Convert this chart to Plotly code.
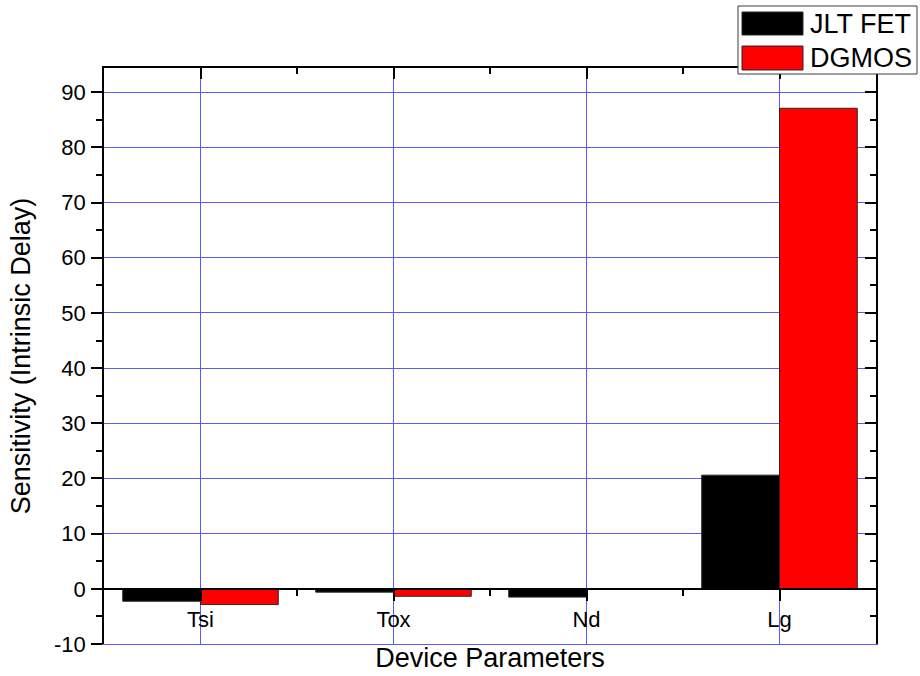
import plotly.graph_objects as go

# Sensitivity of intrinsic delay to device parameters
params = ["Tsi", "Tox", "Nd", "Lg"]
jlt_fet = [-2.25, -0.6, -1.5, 20.6]
dgmos = [-2.85, -1.35, 0.0, 87.1]

y_ticks = list(range(-10, 91, 10))
y_tick_text = [str(v) for v in y_ticks]  # plain hyphen for negatives
Y_MIN, Y_MAX = -10, 94.4

W, H = 920, 676
ML, MR, MT, MB = 104, 44, 68, 32
PW, PH = W - ML - MR, H - MT - MB

FONT = "Arial, Liberation Sans, sans-serif"
GRID = "rgb(90,90,255)"
AX = "black"


def px_x(x):
    return (x - ML) / PW


def px_y(y):
    return (H - MB - y) / PH


xpos = list(range(len(params)))

fig = go.Figure()
fig.add_trace(go.Bar(x=xpos, y=jlt_fet, name="JLT FET",
                     marker=dict(color="black", line=dict(color="rgb(40,40,40)", width=1))))
fig.add_trace(go.Bar(x=xpos, y=dgmos, name="DGMOS",
                     marker=dict(color="#ff0000", line=dict(color="rgb(40,40,40)", width=1))))

zero_pos = (0 - Y_MIN) / (Y_MAX - Y_MIN)

fig.update_layout(
    width=W, height=H,
    margin=dict(l=ML, r=MR, t=MT, b=MB, autoexpand=False),
    paper_bgcolor="white", plot_bgcolor="white",
    barmode="group", bargap=0.194, bargroupgap=0,
    showlegend=False,
    font=dict(family=FONT, color="black", size=22),
    # bottom frame: carries the vertical grid and the axis title
    xaxis=dict(range=[-0.5, 3.5], tickvals=xpos, showticklabels=False, ticks="",
               showgrid=True, gridcolor=GRID, gridwidth=1, zeroline=False,
               showline=True, linecolor=GRID, linewidth=1,
               title=dict(text="Device Parameters", font=dict(size=27), standoff=4),
               automargin=False),
    # top frame
    xaxis2=dict(overlaying="x", side="top", anchor="y", range=[-0.5, 3.5],
                tickvals=xpos, showticklabels=False, ticks="inside", ticklen=11,
                tickwidth=1.5, tickcolor=AX,
                minor=dict(tickvals=[0.5, 1.5, 2.5], ticks="inside", ticklen=6,
                           tickwidth=1.5, tickcolor=AX),
                showgrid=False, zeroline=False, showline=True, linecolor=AX,
                linewidth=1.5, automargin=False),
    # category axis sitting at y = 0
    xaxis3=dict(overlaying="x", anchor="free", position=zero_pos, side="bottom",
                range=[-0.5, 3.5], tickvals=xpos, ticktext=params,
                ticks="outside", ticklen=11, tickwidth=1.5, tickcolor=AX,
                minor=dict(tickvals=[0.5, 1.5, 2.5], ticks="outside", ticklen=6,
                           tickwidth=1.5, tickcolor=AX),
                ticklabelstandoff=0, tickfont=dict(size=22),
                showgrid=False, zeroline=False, showline=True, linecolor=AX,
                linewidth=1.5, automargin=False),
    yaxis=dict(range=[Y_MIN, Y_MAX], tickvals=y_ticks, ticktext=y_tick_text,
               ticks="outside", ticklen=11, tickwidth=1.5, tickcolor=AX,
               minor=dict(dtick=5, tick0=-10, ticks="outside", ticklen=6,
                          tickwidth=1.5, tickcolor=AX, showgrid=False),
               showgrid=True, gridcolor=GRID, gridwidth=1, zeroline=False,
               showline=True, linecolor=AX, linewidth=1.5,
               ticklabelstandoff=1, tickfont=dict(size=22),
               title=dict(text="Sensitivity (Intrinsic Delay)", font=dict(size=27),
                          standoff=16),
               automargin=False),
    yaxis2=dict(overlaying="y", side="right", anchor="x", range=[Y_MIN, Y_MAX],
                tickvals=y_ticks, ticks="inside", ticklen=11, tickwidth=1.5,
                tickcolor=AX, showticklabels=False,
                minor=dict(dtick=5, tick0=-10, ticks="inside", ticklen=6,
                           tickwidth=1.5, tickcolor=AX, showgrid=False),
                showgrid=False, zeroline=False, showline=True, linecolor=AX,
                linewidth=1.5, automargin=False),
)

# keep the helper axes alive with invisible traces
fig.add_trace(go.Scatter(x=[None], y=[None], xaxis="x2", yaxis="y2",
                         showlegend=False, hoverinfo="skip"))
fig.add_trace(go.Scatter(x=[None], y=[None], xaxis="x3", yaxis="y",
                         showlegend=False, hoverinfo="skip"))

# legend box in the top-right corner
legend_items = [("JLT FET", "black", 12, 35, 24), ("DGMOS", "#ff0000", 46, 70, 58)]
fig.add_shape(type="rect", xref="paper", yref="paper",
              x0=px_x(738), x1=px_x(917), y0=px_y(74), y1=px_y(6),
              line=dict(color="rgb(60,60,60)", width=1), fillcolor="white", layer="above")
for label, color, top, bottom, mid in legend_items:
    fig.add_shape(type="rect", xref="paper", yref="paper",
                  x0=px_x(742), x1=px_x(803), y0=px_y(bottom), y1=px_y(top),
                  line=dict(color="rgb(40,40,40)", width=1), fillcolor=color, layer="above")
    fig.add_annotation(xref="paper", yref="paper", x=px_x(808), y=px_y(mid),
                       text=label, showarrow=False, xanchor="left", yanchor="middle",
                       font=dict(size=27, family=FONT, color="black"))

fig.write_html("out.html")
